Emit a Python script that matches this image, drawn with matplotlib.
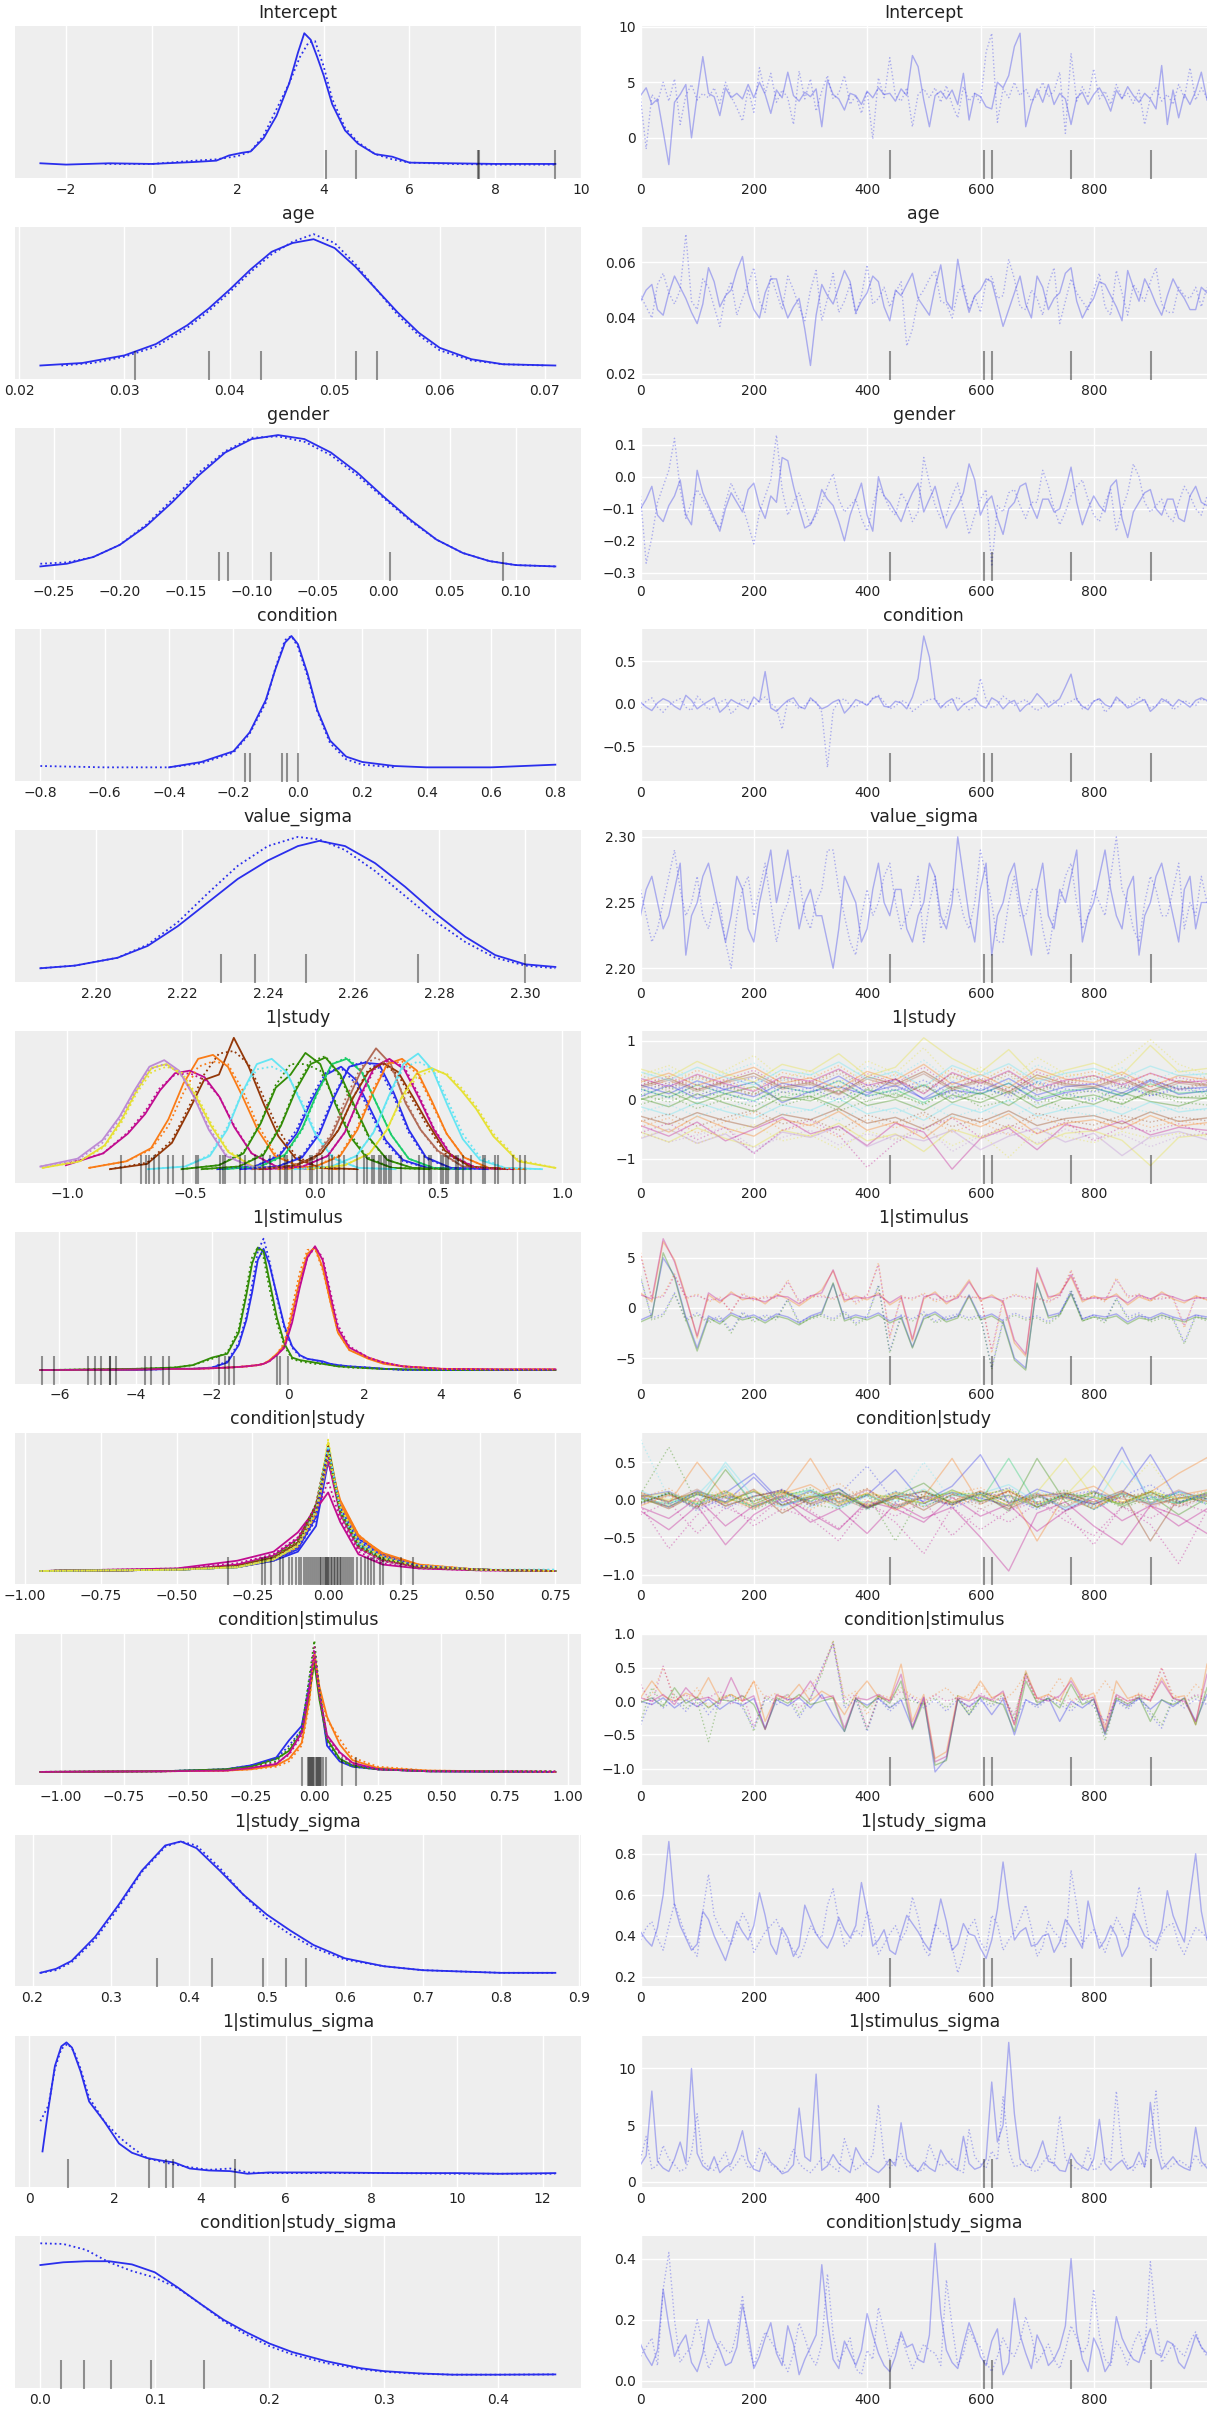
import numpy as np
import matplotlib
matplotlib.use("Agg")
import matplotlib.pyplot as plt

# arviz-darkgrid colour cycle
COLORS = ["#2a2eec", "#fa7c17", "#328c06", "#c10c90", "#933708",
          "#65e5f3", "#e6e135", "#1ccd6a", "#bd8ad5", "#b16b57"]
# draws flagged as divergent (same for every variable)
DIV_DRAWS = [440, 605, 620, 760, 900]

# ---------------- Intercept ----------------
intercept_kde_x0 = [-2.6, -2.0, -1.0, 0.0, 1.0, 1.5, 1.8, 2.1, 2.3, 2.6, 2.9, 3.2, 3.4, 3.55,
                    3.7, 3.85, 4.0, 4.2, 4.5, 4.8, 5.2, 5.6, 6.0, 7.0, 8.0, 9.4]
intercept_kde_c0 = [0.01, 0.0, 0.01, 0.005, 0.02, 0.03, 0.07, 0.09, 0.1, 0.2, 0.37, 0.62, 0.85, 1.0,
                    0.95, 0.82, 0.68, 0.46, 0.26, 0.16, 0.08, 0.06, 0.015, 0.01, 0.005, 0.005]
intercept_kde_x1 = [-1.1, 0.0, 1.0, 1.5, 2.0, 2.3, 2.6, 2.9, 3.2, 3.45, 3.65, 3.8, 4.0, 4.2, 4.5,
                    4.8, 5.2, 5.6, 6.0, 7.0, 8.0, 9.4]
intercept_kde_c1 = [0.005, 0.005, 0.03, 0.04, 0.065, 0.1, 0.22, 0.42, 0.62, 0.82, 0.93, 0.94, 0.75,
                    0.5, 0.28, 0.17, 0.08, 0.04, 0.015, 0.005, 0.0, 0.0]
intercept_div = [4.05, 4.75, 7.6, 7.62, 9.4]
intercept_trace_c0 = [3.8, 4.5, 3.0, 3.5, 0.6, -2.4, 3.2, 3.9, 4.8, 0.0,
                      3.8, 7.3, 4.0, 3.7, 2.0, 4.5, 3.6, 4.0, 3.5, 4.8,
                      3.6, 5.0, 3.9, 2.2, 4.3, 3.6, 5.9, 3.8, 3.3, 4.1,
                      3.7, 4.4, 1.0, 5.2, 3.9, 3.5, 2.5, 4.0, 3.8, 3.0,
                      4.2, 3.6, 4.5, 3.9, 4.0, 3.3, 4.4, 3.8, 7.4, 6.4,
                      3.4, 1.0, 3.8, 4.2, 3.5, 4.3, 3.0, 5.8, 1.6, 4.0,
                      3.7, 2.8, 2.6, 5.0, 4.5, 5.6, 8.2, 9.4, 1.0, 3.0,
                      4.4, 3.2, 4.8, 3.0, 4.0, 3.5, 1.2, 3.6, 4.1, 3.0,
                      3.9, 4.5, 3.6, 2.4, 4.3, 3.5, 4.6, 3.8, 3.2, 4.0,
                      3.5, 2.6, 6.5, 1.2, 4.3, 1.8, 3.9, 3.0, 4.2, 5.9, 3.4]
intercept_trace_c1 = [3.6, -1.0, 3.9, 3.2, 5.0, 3.3, 5.3, 1.2, 3.8, 4.8,
                      3.4, 4.0, 3.6, 4.5, 3.1, 5.0, 3.7, 2.7, 1.5, 4.4,
                      2.3, 6.3, 4.0, 5.8, 3.2, 4.3, 3.6, 1.2, 6.0, 3.5,
                      5.3, 2.4, 4.2, 5.6, 3.5, 4.0, 5.6, 3.0, 3.8, 2.2,
                      4.2, -0.1, 5.4, 3.6, 7.2, 3.8, 3.3, 4.5, 1.0, 3.9,
                      4.4, 3.6, 4.5, 3.2, 4.7, 3.0, 1.8, 4.6, 3.3, 4.0,
                      3.1, 7.7, 9.4, 1.4, 4.4, 3.6, 5.0, 3.8, 4.4, 3.3,
                      3.8, 5.0, 3.7, 4.2, 5.9, 0.4, 7.6, 3.3, 4.6, 3.6,
                      6.2, 3.5, 4.2, 3.0, 4.8, 3.6, 4.0, 3.1, 4.3, 1.2,
                      3.6, 4.5, 3.3, 3.9, 3.0, 4.8, 3.6, 6.3, 3.4, 4.5, 3.6]

# ---------------- age ----------------
age_kde_x0 = [0.022, 0.026, 0.030, 0.033, 0.036, 0.038, 0.040, 0.042, 0.044, 0.046, 0.048, 0.050,
              0.052, 0.054, 0.056, 0.058, 0.060, 0.063, 0.066, 0.071]
age_kde_c0 = [0.0, 0.02, 0.08, 0.17, 0.32, 0.45, 0.6, 0.76, 0.9, 0.97, 1.0, 0.93, 0.78, 0.6, 0.42,
              0.26, 0.14, 0.05, 0.01, 0.0]
age_kde_x1 = [0.024, 0.027, 0.030, 0.033, 0.036, 0.038, 0.040, 0.042, 0.044, 0.046, 0.048, 0.050,
              0.052, 0.054, 0.056, 0.058, 0.060, 0.063, 0.066, 0.070]
age_kde_c1 = [0.0, 0.02, 0.07, 0.15, 0.3, 0.43, 0.58, 0.74, 0.88, 0.98, 1.04, 0.97, 0.8, 0.6, 0.4,
              0.24, 0.12, 0.04, 0.01, 0.0]
age_div = [0.031, 0.038, 0.043, 0.052, 0.054]
age_trace_c0 = [0.046, 0.050, 0.052, 0.043, 0.041, 0.049, 0.055, 0.051, 0.047, 0.042,
                0.038, 0.045, 0.058, 0.053, 0.044, 0.048, 0.050, 0.057, 0.062, 0.049,
                0.043, 0.040, 0.049, 0.054, 0.054, 0.046, 0.040, 0.044, 0.047, 0.036,
                0.023, 0.041, 0.052, 0.048, 0.045, 0.051, 0.057, 0.053, 0.042, 0.046,
                0.049, 0.055, 0.053, 0.044, 0.039, 0.050, 0.048, 0.052, 0.056, 0.047,
                0.044, 0.041, 0.051, 0.059, 0.046, 0.043, 0.061, 0.050, 0.042, 0.048,
                0.050, 0.054, 0.053, 0.045, 0.037, 0.043, 0.049, 0.055, 0.045, 0.040,
                0.055, 0.051, 0.043, 0.047, 0.049, 0.056, 0.058, 0.046, 0.040, 0.044,
                0.047, 0.053, 0.052, 0.048, 0.044, 0.039, 0.057, 0.051, 0.046, 0.054,
                0.050, 0.045, 0.041, 0.048, 0.054, 0.050, 0.047, 0.043, 0.043, 0.051, 0.049]
age_trace_c1 = [0.048, 0.044, 0.040, 0.052, 0.056, 0.049, 0.045, 0.050, 0.070, 0.046,
                0.043, 0.054, 0.051, 0.044, 0.037, 0.048, 0.053, 0.041, 0.047, 0.052,
                0.058, 0.046, 0.042, 0.055, 0.049, 0.043, 0.055, 0.050, 0.044, 0.039,
                0.050, 0.057, 0.039, 0.047, 0.056, 0.042, 0.046, 0.052, 0.041, 0.048,
                0.059, 0.045, 0.047, 0.051, 0.044, 0.049, 0.053, 0.030, 0.036, 0.047,
                0.050, 0.054, 0.057, 0.046, 0.045, 0.040, 0.049, 0.052, 0.043, 0.048,
                0.042, 0.053, 0.055, 0.047, 0.048, 0.061, 0.054, 0.044, 0.043, 0.050,
                0.047, 0.041, 0.052, 0.058, 0.038, 0.046, 0.054, 0.049, 0.046, 0.043,
                0.050, 0.056, 0.044, 0.041, 0.057, 0.049, 0.041, 0.052, 0.049, 0.046,
                0.053, 0.058, 0.045, 0.042, 0.042, 0.051, 0.048, 0.047, 0.051, 0.044, 0.051]

# ---------------- gender ----------------
gender_kde_x = [-0.26, -0.24, -0.22, -0.20, -0.18, -0.16, -0.14, -0.12, -0.10, -0.08, -0.06, -0.04,
                -0.02, 0.0, 0.02, 0.04, 0.06, 0.08, 0.10, 0.13]
gender_kde_c0 = [0.02, 0.04, 0.09, 0.18, 0.32, 0.5, 0.7, 0.87, 0.97, 1.0, 0.97, 0.87, 0.72, 0.54,
                 0.37, 0.22, 0.12, 0.06, 0.03, 0.02]
gender_kde_c1 = [0.04, 0.05, 0.09, 0.18, 0.33, 0.52, 0.72, 0.88, 0.98, 0.99, 0.95, 0.85, 0.7, 0.53,
                 0.36, 0.22, 0.12, 0.06, 0.03, 0.02]
gender_div = [-0.125, -0.118, -0.085, 0.005, 0.09]
gender_trace_c0 = [-0.10, -0.07, -0.03, -0.12, -0.14, -0.09, -0.06, -0.01, -0.12, -0.15,
                   0.02, -0.05, -0.09, -0.13, -0.17, -0.10, -0.05, -0.08, -0.11, -0.04,
                   -0.02, -0.09, -0.13, -0.06, -0.08, 0.06, 0.05, -0.03, -0.10, -0.16,
                   -0.15, -0.11, -0.04, -0.07, -0.09, -0.14, -0.20, -0.12, -0.07, -0.02,
                   -0.12, -0.17, 0.00, -0.06, -0.08, -0.11, -0.14, -0.09, -0.05, -0.02,
                   -0.11, -0.07, -0.03, -0.10, -0.16, -0.12, -0.09, -0.05, 0.04, -0.01,
                   -0.12, -0.08, -0.06, -0.13, -0.18, -0.10, -0.08, -0.03, -0.02, -0.09,
                   -0.13, -0.07, -0.07, -0.11, -0.10, -0.04, 0.03, -0.08, -0.15, -0.10,
                   -0.06, -0.09, -0.11, -0.03, -0.01, -0.13, -0.19, -0.11, -0.08, -0.05,
                   -0.04, -0.10, -0.12, -0.07, -0.07, -0.13, -0.14, -0.06, -0.03, -0.08, -0.09]
gender_trace_c1 = [-0.06, -0.27, -0.19, -0.08, -0.03, 0.02, 0.12, -0.04, -0.13, -0.08,
                   -0.04, -0.07, -0.10, -0.14, -0.16, -0.08, -0.02, -0.06, -0.09, -0.15,
                   -0.21, -0.11, -0.06, -0.01, 0.13, -0.04, -0.12, -0.08, -0.05, -0.10,
                   -0.15, -0.12, -0.08, -0.03, 0.01, -0.07, -0.11, -0.09, -0.07, -0.13,
                   -0.17, -0.09, -0.03, -0.06, -0.10, -0.12, -0.05, -0.08, -0.14, -0.11,
                   0.06, -0.02, -0.09, -0.13, -0.12, -0.06, -0.02, -0.10, -0.18, -0.12,
                   -0.07, -0.04, -0.28, -0.09, -0.11, -0.05, -0.04, -0.09, -0.13, -0.08,
                   -0.08, 0.02, -0.03, -0.10, -0.15, -0.11, -0.06, -0.03, -0.01, -0.07,
                   -0.12, -0.14, -0.08, -0.04, -0.17, -0.10, -0.05, 0.04, 0.00, -0.08,
                   -0.11, -0.09, -0.07, -0.12, -0.14, -0.08, -0.03, -0.06, -0.10, -0.12, -0.06]

# ---------------- condition ----------------
condition_kde_x0 = [-0.4, -0.3, -0.2, -0.15, -0.1, -0.07, -0.04, -0.02, 0.0, 0.03, 0.06, 0.1, 0.15,
                    0.2, 0.3, 0.4, 0.5, 0.6, 0.7, 0.8]
condition_kde_c0 = [0.02, 0.06, 0.14, 0.28, 0.52, 0.75, 0.95, 1.0, 0.94, 0.72, 0.45, 0.22, 0.1, 0.06,
                    0.03, 0.02, 0.02, 0.02, 0.03, 0.04]
condition_kde_x1 = [-0.8, -0.6, -0.4, -0.3, -0.2, -0.15, -0.1, -0.07, -0.04, -0.02, 0.0, 0.03, 0.06,
                    0.1, 0.15, 0.2, 0.3]
condition_kde_c1 = [0.03, 0.02, 0.02, 0.05, 0.13, 0.27, 0.5, 0.76, 0.97, 1.0, 0.92, 0.7, 0.44, 0.2,
                    0.08, 0.04, 0.02]
condition_div = [-0.165, -0.15, -0.05, -0.035, 0.0]
condition_trace_c0 = [0.02, -0.04, -0.08, 0.01, 0.06, 0.03, -0.03, -0.07, 0.10, 0.04,
                      -0.06, -0.01, 0.03, 0.07, -0.10, -0.04, 0.05, 0.01, -0.02, -0.06,
                      0.08, 0.02, 0.38, -0.05, -0.09, -0.02, 0.04, 0.07, -0.03, -0.06,
                      0.07, 0.01, -0.06, -0.03, 0.02, 0.05, -0.11, -0.04, 0.05, 0.02,
                      -0.02, 0.06, 0.09, -0.03, -0.04, 0.03, 0.01, -0.06, 0.08, 0.30,
                      0.80, 0.55, 0.05, -0.05, 0.02, 0.06, -0.08, -0.01, 0.03, 0.07,
                      -0.02, -0.05, 0.07, 0.03, -0.06, 0.01, 0.04, -0.09, -0.02, 0.02,
                      0.12, 0.05, -0.04, 0.01, 0.06, 0.20, 0.35, 0.05, -0.03, -0.07,
                      0.03, 0.06, -0.01, -0.04, 0.08, 0.02, -0.05, -0.02, 0.02, 0.05,
                      -0.09, -0.03, 0.06, 0.02, -0.03, 0.05, 0.01, -0.04, 0.04, 0.07, 0.04]
condition_trace_c1 = [-0.05, 0.03, 0.07, -0.04, -0.10, -0.02, 0.03, 0.06, -0.04, -0.08,
                      0.09, 0.02, -0.07, -0.03, 0.02, 0.05, -0.12, -0.05, 0.06, 0.02,
                      -0.03, 0.04, 0.08, 0.00, -0.05, -0.30, 0.04, 0.01, -0.06, -0.02,
                      0.05, 0.02, -0.10, -0.75, -0.08, 0.03, 0.06, -0.02, -0.04, 0.03,
                      -0.02, 0.07, 0.10, 0.02, -0.06, -0.03, 0.04, 0.01, -0.09, -0.04,
                      0.02, 0.05, 0.06, -0.02, -0.04, 0.03, 0.08, 0.01, -0.07, -0.03,
                      0.30, 0.05, -0.05, -0.01, 0.09, 0.04, -0.02, 0.02, 0.05, -0.03,
                      -0.08, -0.04, 0.01, 0.04, -0.04, 0.00, 0.03, 0.07, -0.06, -0.02,
                      0.03, 0.06, -0.10, -0.04, 0.05, 0.02, -0.03, 0.01, 0.08, 0.03,
                      -0.05, -0.02, 0.02, 0.05, -0.07, -0.03, 0.04, 0.00, -0.02, 0.06, 0.03]

# ---------------- value_sigma ----------------
vsig_kde_x = [2.187, 2.195, 2.205, 2.212, 2.219, 2.226, 2.233, 2.240, 2.247, 2.252, 2.258, 2.265,
              2.272, 2.279, 2.286, 2.293, 2.300, 2.307]
vsig_kde_c0 = [0.0, 0.02, 0.08, 0.17, 0.32, 0.5, 0.68, 0.82, 0.93, 0.97, 0.93, 0.8, 0.62, 0.42, 0.24,
               0.1, 0.03, 0.01]
vsig_kde_c1 = [0.0, 0.02, 0.08, 0.18, 0.35, 0.57, 0.78, 0.93, 1.0, 0.98, 0.9, 0.74, 0.55, 0.36, 0.2,
               0.08, 0.02, 0.0]
vsig_div = [2.229, 2.237, 2.249, 2.275, 2.30]
vsig_trace_c0 = [2.24, 2.26, 2.27, 2.25, 2.23, 2.24, 2.26, 2.28, 2.21, 2.24,
                 2.25, 2.27, 2.28, 2.26, 2.24, 2.22, 2.24, 2.27, 2.26, 2.23,
                 2.22, 2.25, 2.27, 2.29, 2.25, 2.27, 2.29, 2.26, 2.23, 2.25,
                 2.26, 2.24, 2.24, 2.22, 2.20, 2.23, 2.27, 2.26, 2.25, 2.22,
                 2.23, 2.26, 2.28, 2.25, 2.24, 2.26, 2.26, 2.23, 2.22, 2.24,
                 2.25, 2.28, 2.27, 2.24, 2.23, 2.25, 2.30, 2.27, 2.24, 2.22,
                 2.26, 2.28, 2.21, 2.24, 2.25, 2.27, 2.28, 2.25, 2.23, 2.21,
                 2.26, 2.28, 2.24, 2.23, 2.26, 2.25, 2.27, 2.29, 2.22, 2.24,
                 2.25, 2.27, 2.29, 2.26, 2.24, 2.23, 2.26, 2.27, 2.21, 2.24,
                 2.25, 2.27, 2.28, 2.26, 2.24, 2.22, 2.26, 2.27, 2.23, 2.25, 2.25]
vsig_trace_c1 = [2.26, 2.24, 2.22, 2.23, 2.25, 2.27, 2.29, 2.26, 2.24, 2.25,
                 2.27, 2.24, 2.23, 2.25, 2.25, 2.22, 2.20, 2.24, 2.26, 2.27,
                 2.24, 2.26, 2.28, 2.25, 2.22, 2.24, 2.25, 2.27, 2.27, 2.24,
                 2.23, 2.25, 2.26, 2.29, 2.29, 2.26, 2.24, 2.22, 2.21, 2.24,
                 2.26, 2.24, 2.25, 2.27, 2.28, 2.25, 2.23, 2.24, 2.25, 2.27,
                 2.22, 2.25, 2.27, 2.23, 2.24, 2.26, 2.26, 2.24, 2.23, 2.25,
                 2.29, 2.27, 2.25, 2.22, 2.22, 2.25, 2.27, 2.24, 2.24, 2.26,
                 2.26, 2.23, 2.21, 2.24, 2.25, 2.27, 2.28, 2.25, 2.23, 2.24,
                 2.26, 2.25, 2.24, 2.27, 2.30, 2.26, 2.25, 2.23, 2.22, 2.25,
                 2.27, 2.26, 2.24, 2.24, 2.26, 2.28, 2.23, 2.25, 2.24, 2.27, 2.25]

# ---------------- 1|study (17 levels) ----------------
study_kde_offsets = [-0.5, -0.35, -0.25, -0.18, -0.12, -0.06, 0.0, 0.06, 0.12, 0.18, 0.25, 0.35, 0.5]
study_centers = [0.107, -0.41, -0.037, -0.504, -0.326, -0.173, -0.598, 0.13, -0.607, 0.248, 0.2,
                 0.353, 0.044, 0.302, 0.277, 0.418, 0.472]
study_kde_c0 = [
    [0.0, 0.02, 0.1, 0.27, 0.52, 0.72, 0.78, 0.68, 0.45, 0.22, 0.07, 0.01, 0.0],
    [0.01, 0.06, 0.16, 0.38, 0.65, 0.84, 0.87, 0.78, 0.55, 0.3, 0.1, 0.02, 0.0],
    [0.0, 0.03, 0.12, 0.35, 0.62, 0.72, 0.885, 0.8, 0.5, 0.25, 0.08, 0.01, 0.0],
    [0.03, 0.12, 0.27, 0.42, 0.6, 0.73, 0.75, 0.7, 0.55, 0.32, 0.12, 0.02, 0.0],
    [0.0, 0.04, 0.2, 0.45, 0.68, 0.72, 1.0, 0.78, 0.5, 0.25, 0.08, 0.01, 0.0],
    [0.0, 0.02, 0.1, 0.3, 0.58, 0.8, 0.84, 0.74, 0.5, 0.25, 0.08, 0.01, 0.0],
    [0.01, 0.06, 0.18, 0.38, 0.6, 0.77, 0.8, 0.72, 0.55, 0.33, 0.13, 0.02, 0.0],
    [0.0, 0.02, 0.11, 0.31, 0.58, 0.8, 0.84, 0.74, 0.5, 0.26, 0.08, 0.01, 0.0],
    [0.02, 0.08, 0.22, 0.4, 0.6, 0.78, 0.83, 0.75, 0.55, 0.3, 0.1, 0.02, 0.0],
    [0.0, 0.02, 0.08, 0.25, 0.5, 0.75, 0.92, 0.8, 0.5, 0.3, 0.14, 0.02, 0.0],
    [0.0, 0.02, 0.09, 0.27, 0.55, 0.78, 0.81, 0.8, 0.58, 0.3, 0.09, 0.01, 0.0],
    [0.0, 0.02, 0.1, 0.3, 0.57, 0.8, 0.84, 0.75, 0.52, 0.27, 0.09, 0.01, 0.0],
    [0.0, 0.02, 0.11, 0.33, 0.6, 0.8, 0.85, 0.72, 0.47, 0.23, 0.07, 0.01, 0.0],
    [0.0, 0.02, 0.1, 0.28, 0.55, 0.78, 0.84, 0.76, 0.54, 0.3, 0.1, 0.01, 0.0],
    [0.0, 0.03, 0.12, 0.3, 0.55, 0.74, 0.81, 0.74, 0.55, 0.35, 0.14, 0.02, 0.0],
    [0.0, 0.02, 0.1, 0.28, 0.55, 0.8, 0.88, 0.75, 0.48, 0.23, 0.07, 0.01, 0.0],
    [0.0, 0.03, 0.12, 0.3, 0.55, 0.73, 0.77, 0.72, 0.6, 0.46, 0.25, 0.06, 0.01],
]
study_kde_c1 = [
    [0.0, 0.02, 0.11, 0.3, 0.55, 0.74, 0.77, 0.65, 0.42, 0.2, 0.06, 0.01, 0.0],
    [0.01, 0.06, 0.15, 0.33, 0.58, 0.78, 0.82, 0.8, 0.6, 0.34, 0.12, 0.02, 0.0],
    [0.0, 0.03, 0.13, 0.36, 0.64, 0.8, 0.8, 0.75, 0.52, 0.27, 0.09, 0.01, 0.0],
    [0.04, 0.12, 0.28, 0.44, 0.62, 0.72, 0.73, 0.68, 0.55, 0.33, 0.12, 0.02, 0.0],
    [0.0, 0.05, 0.22, 0.48, 0.72, 0.88, 0.9, 0.8, 0.55, 0.3, 0.1, 0.01, 0.0],
    [0.0, 0.02, 0.11, 0.32, 0.58, 0.76, 0.78, 0.73, 0.52, 0.27, 0.09, 0.01, 0.0],
    [0.01, 0.06, 0.17, 0.36, 0.58, 0.74, 0.78, 0.74, 0.57, 0.35, 0.14, 0.02, 0.0],
    [0.0, 0.02, 0.1, 0.3, 0.57, 0.8, 0.85, 0.75, 0.5, 0.26, 0.08, 0.01, 0.0],
    [0.02, 0.07, 0.2, 0.38, 0.58, 0.76, 0.8, 0.74, 0.56, 0.32, 0.11, 0.02, 0.0],
    [0.0, 0.02, 0.09, 0.27, 0.55, 0.78, 0.85, 0.78, 0.52, 0.3, 0.13, 0.02, 0.0],
    [0.0, 0.02, 0.1, 0.3, 0.57, 0.78, 0.82, 0.77, 0.55, 0.28, 0.08, 0.01, 0.0],
    [0.0, 0.02, 0.11, 0.32, 0.6, 0.8, 0.82, 0.73, 0.5, 0.27, 0.09, 0.01, 0.0],
    [0.0, 0.02, 0.12, 0.34, 0.62, 0.82, 0.86, 0.7, 0.45, 0.22, 0.07, 0.01, 0.0],
    [0.0, 0.02, 0.1, 0.28, 0.54, 0.76, 0.83, 0.78, 0.56, 0.31, 0.11, 0.01, 0.0],
    [0.0, 0.03, 0.12, 0.3, 0.55, 0.76, 0.8, 0.72, 0.52, 0.32, 0.12, 0.02, 0.0],
    [0.0, 0.02, 0.1, 0.28, 0.54, 0.77, 0.82, 0.76, 0.52, 0.27, 0.09, 0.01, 0.0],
    [0.0, 0.03, 0.12, 0.3, 0.53, 0.7, 0.75, 0.73, 0.62, 0.48, 0.27, 0.07, 0.01],
]
study_div = [-0.78, -0.70, -0.68, -0.67, -0.65, -0.63, -0.59, -0.57, -0.53, -0.48, -0.47, -0.38,
             -0.37, -0.36, -0.30, -0.28, -0.24, -0.21, -0.18, -0.14, -0.12, -0.11, -0.09, -0.06,
             -0.02, -0.01, 0.01, 0.03, 0.06, 0.07, 0.10, 0.12, 0.17, 0.20, 0.21, 0.23, 0.24, 0.26,
             0.27, 0.28, 0.29, 0.30, 0.31, 0.35, 0.42, 0.44, 0.46, 0.47, 0.51, 0.52, 0.53, 0.54,
             0.57, 0.58, 0.60, 0.63, 0.68, 0.69, 0.73, 0.74, 0.80, 0.83, 0.85]
study_trace_c0 = [
    [0.05, 0.25, 0.02, 0.18, 0.30, -0.05, 0.14, 0.22, 0.08, 0.35, 0.00, 0.16, 0.10, 0.28, -0.02, 0.12, 0.20, 0.06, 0.32, 0.09, 0.15],
    [-0.35, -0.55, -0.28, -0.48, -0.62, -0.33, -0.44, -0.20, -0.52, -0.38, -0.66, -0.30, -0.46, -0.24, -0.58, -0.40, -0.34, -0.50, -0.27, -0.45, -0.39],
    [0.02, -0.12, 0.10, -0.06, -0.20, 0.05, -0.02, 0.16, -0.10, 0.00, -0.18, 0.08, -0.05, 0.14, -0.14, 0.03, -0.08, 0.12, -0.03, -0.11, 0.04],
    [-0.44, -0.62, -0.38, -0.70, -0.50, -0.30, -0.58, -0.45, -0.78, -0.40, -0.55, -1.18, -0.66, -0.48, -0.85, -0.42, -0.53, -0.36, -0.60, -0.47, -0.52],
    [-0.28, -0.42, -0.22, -0.36, -0.47, -0.25, -0.34, -0.15, -0.40, -0.30, -0.50, -0.24, -0.38, -0.19, -0.44, -0.32, -0.27, -0.41, -0.21, -0.37, -0.31],
    [-0.12, -0.26, -0.05, -0.20, -0.32, -0.09, -0.18, 0.02, -0.24, -0.14, -0.35, -0.07, -0.22, -0.01, -0.28, -0.16, -0.10, -0.25, -0.04, -0.21, -0.15],
    [-0.55, -0.72, -0.48, -0.66, -0.80, -0.52, -0.62, -0.40, -0.70, -0.58, -0.88, -0.50, -0.65, -0.44, -0.76, -0.57, -0.53, -0.69, -1.12, -0.64, -0.59],
    [0.18, 0.04, 0.25, 0.10, -0.02, 0.21, 0.12, 0.32, 0.06, 0.17, -0.05, 0.23, 0.09, 0.28, 0.01, 0.15, 0.20, 0.07, 0.27, 0.11, 0.14],
    [-0.66, -0.50, -0.74, -0.58, -0.90, -0.55, -0.64, -0.45, -0.80, -0.60, -0.70, -0.52, -0.85, -0.62, -0.48, -0.72, -0.57, -0.95, -0.63, -0.54, -0.68],
    [0.20, 0.33, 0.14, 0.29, 0.40, 0.18, 0.26, 0.08, 0.35, 0.22, 0.44, 0.16, 0.31, 0.10, 0.37, 0.24, 0.19, 0.34, 0.12, 0.28, 0.23],
    [0.25, 0.10, 0.32, 0.17, 0.05, 0.28, 0.19, 0.40, 0.12, 0.24, 0.02, 0.30, 0.15, 0.36, 0.08, 0.22, 0.27, 0.11, 0.34, 0.18, 0.21],
    [0.30, 0.45, 0.24, 0.40, 0.55, 0.28, 0.37, 0.18, 0.48, 0.33, 0.60, 0.26, 0.43, 0.20, 0.52, 0.35, 0.29, 0.47, 0.22, 0.41, 0.34],
    [0.00, 0.14, -0.07, 0.10, 0.22, -0.02, 0.06, -0.13, 0.17, 0.03, 0.25, -0.05, 0.12, -0.10, 0.20, 0.01, 0.08, -0.08, 0.15, 0.04, 0.02],
    [0.36, 0.22, 0.43, 0.27, 0.14, 0.39, 0.31, 0.52, 0.24, 0.35, 0.10, 0.46, 0.28, 0.49, 0.19, 0.33, 0.41, 0.25, 0.45, 0.29, 0.32],
    [0.23, 0.36, 0.17, 0.31, 0.45, 0.21, 0.29, 0.10, 0.39, 0.26, 0.48, 0.19, 0.34, 0.13, 0.42, 0.27, 0.22, 0.37, 0.15, 0.32, 0.25],
    [0.47, 0.33, 0.55, 0.38, 0.25, 0.51, 0.42, 0.64, 0.35, 0.48, 0.22, 0.58, 0.40, 0.61, 0.30, 0.45, 0.53, 0.36, 0.57, 0.41, 0.44],
    [0.52, 0.38, 0.65, 0.44, 0.30, 0.60, 0.48, 0.78, 0.40, 0.55, 1.05, 0.70, 0.46, 0.85, 0.35, 0.50, 0.62, 0.42, 0.92, 0.47, 0.53],
]
study_trace_c1 = [
    [0.18, 0.03, 0.27, 0.10, -0.04, 0.21, 0.12, 0.33, 0.05, 0.16, 0.24, 0.01, 0.19, 0.08, 0.29, 0.11, -0.03, 0.23, 0.07, 0.17, 0.13],
    [-0.46, -0.31, -0.57, -0.37, -0.22, -0.52, -0.42, -0.64, -0.33, -0.48, -0.26, -0.55, -0.38, -0.60, -0.29, -0.44, -0.51, -0.32, -0.47, -0.36, -0.43],
    [-0.08, 0.06, -0.15, 0.01, 0.13, -0.10, 0.04, -0.19, -0.02, 0.09, -0.07, 0.15, -0.12, -0.01, 0.07, -0.16, 0.02, -0.06, 0.11, -0.04, -0.09],
    [-0.56, -0.40, -0.68, -0.47, -0.92, -0.52, -0.35, -0.60, -1.15, -0.73, -0.49, -0.31, -0.64, -0.43, -0.57, -0.38, -0.70, -0.46, -0.54, -0.41, -0.59],
    [-0.37, -0.24, -0.45, -0.30, -0.18, -0.41, -0.33, -0.52, -0.26, -0.39, -0.21, -0.46, -0.31, -0.48, -0.23, -0.35, -0.43, -0.27, -0.38, -0.29, -0.36],
    [-0.21, -0.08, -0.29, -0.13, -0.02, -0.25, -0.17, -0.36, -0.10, -0.23, -0.05, -0.30, -0.15, -0.33, -0.07, -0.19, -0.27, -0.11, -0.22, -0.14, -0.18],
    [-0.64, -0.50, -0.75, -0.56, -0.42, -0.70, -0.60, -0.84, -0.53, -0.67, -0.47, -0.78, -0.58, -0.98, -0.51, -0.63, -0.73, -0.54, -0.66, -0.57, -0.62],
    [0.08, 0.22, 0.00, 0.16, 0.30, 0.05, 0.14, -0.04, 0.19, 0.10, 0.26, 0.03, 0.17, 0.11, 0.29, 0.07, 0.02, 0.21, 0.12, 0.24, 0.09],
    [-0.55, -0.72, -0.60, -0.47, -0.82, -0.64, -0.52, -0.77, -0.58, -0.69, -0.43, -0.88, -0.61, -0.56, -0.74, -0.50, -0.66, -0.59, -0.80, -0.62, -0.57],
    [0.29, 0.15, 0.38, 0.21, 0.07, 0.34, 0.25, 0.45, 0.17, 0.31, 0.11, 0.39, 0.23, 0.42, 0.13, 0.27, 0.36, 0.19, 0.30, 0.16, 0.26],
    [0.14, 0.29, 0.07, 0.23, 0.38, 0.12, 0.20, 0.00, 0.26, 0.16, 0.33, 0.09, 0.24, 0.04, 0.31, 0.18, 0.13, 0.28, 0.06, 0.22, 0.17],
    [0.41, 0.26, 0.50, 0.32, 0.16, 0.46, 0.36, 0.58, 0.27, 0.43, 0.21, 0.53, 0.31, 0.56, 0.24, 0.39, 0.48, 0.28, 0.44, 0.30, 0.38],
    [0.09, -0.04, 0.18, 0.02, -0.12, 0.13, 0.05, 0.24, -0.03, 0.11, -0.09, 0.19, 0.00, 0.21, -0.06, 0.08, 0.16, -0.01, 0.10, 0.03, 0.07],
    [0.25, 0.40, 0.18, 0.34, 0.50, 0.23, 0.32, 0.12, 0.44, 0.28, 0.55, 0.20, 0.37, 0.15, 0.47, 0.30, 0.26, 0.42, 0.21, 0.38, 0.27],
    [0.33, 0.19, 0.41, 0.24, 0.09, 0.37, 0.28, 0.50, 0.20, 0.35, 0.14, 0.44, 0.26, 0.47, 0.16, 0.30, 0.40, 0.22, 0.34, 0.18, 0.29],
    [0.36, 0.52, 0.28, 0.45, 0.62, 0.33, 0.43, 0.20, 0.56, 0.39, 0.67, 0.31, 0.49, 0.26, 0.59, 0.40, 0.34, 0.54, 0.30, 0.50, 0.38],
    [0.42, 0.58, 0.33, 0.50, 0.75, 0.37, 0.49, 0.27, 0.66, 0.45, 0.88, 0.36, 0.55, 0.30, 0.72, 0.44, 0.39, 0.64, 1.02, 0.60, 0.43],
]

# ---------------- 1|stimulus (4 levels) ----------------
stim_kde_x = [-6.5, -4.0, -3.0, -2.5, -2.0, -1.6, -1.3, -1.1, -0.95, -0.8, -0.65, -0.5, -0.3, -0.1,
              0.1, 0.3, 0.5, 0.7, 0.9, 1.1, 1.3, 1.6, 2.1, 2.5, 3.0, 4.0, 5.5, 7.0]
stim_kde_c0 = [
    [0.0, 0.0, 0.01, 0.01, 0.02, 0.06, 0.2, 0.4, 0.62, 0.88, 0.97, 0.85, 0.6, 0.35, 0.19, 0.12, 0.09, 0.08, 0.07, 0.05, 0.04, 0.03, 0.02, 0.01, 0.005, 0.0, 0.0, 0.0],
    [0.0, 0.005, 0.01, 0.01, 0.015, 0.02, 0.025, 0.03, 0.035, 0.04, 0.05, 0.077, 0.13, 0.2, 0.45, 0.72, 0.93, 0.98, 0.82, 0.55, 0.3, 0.16, 0.09, 0.05, 0.03, 0.01, 0.005, 0.005],
    [0.0, 0.01, 0.02, 0.04, 0.1, 0.13, 0.3, 0.6, 0.85, 0.98, 0.95, 0.72, 0.42, 0.21, 0.1, 0.08, 0.07, 0.06, 0.05, 0.04, 0.03, 0.025, 0.015, 0.01, 0.005, 0.0, 0.0, 0.0],
    [0.0, 0.005, 0.01, 0.01, 0.015, 0.02, 0.025, 0.03, 0.035, 0.04, 0.05, 0.07, 0.12, 0.18, 0.38, 0.66, 0.9, 0.99, 0.88, 0.6, 0.33, 0.18, 0.1, 0.06, 0.03, 0.01, 0.005, 0.005],
]
stim_kde_c1 = [
    [0.0, 0.0, 0.01, 0.01, 0.02, 0.07, 0.22, 0.43, 0.68, 0.95, 1.05, 0.88, 0.58, 0.33, 0.18, 0.11, 0.09, 0.08, 0.06, 0.05, 0.04, 0.03, 0.02, 0.01, 0.0, 0.0, 0.0, 0.0],
    [0.0, 0.005, 0.01, 0.01, 0.015, 0.02, 0.025, 0.03, 0.035, 0.04, 0.05, 0.075, 0.13, 0.22, 0.5, 0.78, 0.96, 0.97, 0.8, 0.55, 0.3, 0.16, 0.1, 0.06, 0.03, 0.01, 0.005, 0.005],
    [0.0, 0.01, 0.02, 0.04, 0.09, 0.14, 0.33, 0.65, 0.9, 0.98, 0.9, 0.66, 0.38, 0.19, 0.09, 0.07, 0.06, 0.05, 0.05, 0.04, 0.03, 0.02, 0.015, 0.01, 0.005, 0.0, 0.0, 0.0],
    [0.0, 0.005, 0.01, 0.01, 0.015, 0.02, 0.025, 0.03, 0.035, 0.04, 0.05, 0.07, 0.12, 0.19, 0.4, 0.68, 0.9, 0.98, 0.9, 0.63, 0.36, 0.19, 0.1, 0.06, 0.03, 0.01, 0.005, 0.005],
]
stim_div = [-6.47, -6.13, -5.24, -5.07, -4.91, -4.68, -4.68, -4.51, -3.76, -3.59, -3.28, -3.12,
            -1.82, -1.66, -1.56, -1.43, -0.29, -0.21, -0.02]
stim_trace_c0 = [
    [-1.2, -0.7, 5.0, 3.2, -0.9, -4.0, -0.8, -1.4, -0.5, -1.0, -0.7, -1.3, -0.6, -0.9, -1.5, -0.8, -0.4, 2.4, -1.1, -0.7, -1.0, -0.5, -1.3, -0.8, -3.9, -0.9, -0.4, -1.2, -0.8, 1.3, -1.0, -0.6, -1.3, -5.0, -6.0, 2.4, -0.8, -0.5, 1.5, -1.1, -0.7, -0.9, -0.6, -1.4, -0.8, -1.0, -0.5, -0.9, -1.2, -0.7, -0.9],
    [1.5, 0.6, 6.6, 4.8, 1.2, -3.0, 1.3, 0.5, 1.6, 0.8, 1.1, 0.4, 1.4, 0.9, 0.2, 1.0, 1.8, 3.7, 0.6, 1.2, 0.8, 1.5, 0.3, 1.0, -3.3, 0.9, 1.6, 0.4, 1.2, 2.8, 0.7, 1.3, 0.5, -3.5, -4.8, 3.8, 0.9, 1.5, 3.1, 0.6, 1.2, 0.8, 1.4, 0.3, 1.1, 0.7, 1.6, 0.9, 0.5, 1.2, 0.8],
    [-1.4, -0.9, 5.5, 3.0, -1.1, -4.3, -1.0, -1.6, -0.7, -1.2, -0.9, -1.5, -0.8, -1.1, -1.7, -1.0, -0.6, 2.5, -1.3, -0.9, -1.2, -0.7, -1.5, -1.0, -4.0, -1.1, -0.6, -1.4, -1.0, 1.2, -1.2, -0.8, -1.5, -5.2, -6.2, 2.5, -1.0, -0.7, 1.4, -1.3, -0.9, -1.1, -0.8, -1.6, -1.0, -1.2, -0.7, -1.1, -1.4, -0.9, -1.1],
    [1.3, 0.9, 6.9, 4.6, 1.0, -2.8, 1.5, 0.7, 1.4, 1.0, 0.9, 0.6, 1.2, 1.1, 0.4, 1.2, 1.5, 3.8, 0.8, 1.0, 1.0, 1.3, 0.5, 1.2, -3.1, 1.1, 1.4, 0.6, 1.0, 2.6, 0.9, 1.1, 0.7, -3.2, -4.6, 4.0, 1.1, 1.3, 3.3, 0.8, 1.0, 1.0, 1.2, 0.5, 1.3, 0.9, 1.4, 1.1, 0.7, 1.0, 1.0],
]
stim_trace_c1 = [
    [3.0, -1.0, -0.6, 1.5, -1.1, -0.5, -1.3, -0.8, -2.3, -0.4, -1.2, -0.7, -1.0, 0.9, -1.4, -0.9, -0.6, -1.1, -0.3, -1.5, -0.8, 2.3, -4.3, -0.7, -1.1, -0.4, -1.3, -0.9, -0.6, -1.0, -0.7, -6.0, -1.2, -0.5, -1.0, -0.8, -1.4, -0.6, 1.8, -1.1, -0.7, -1.3, 1.0, -0.9, -0.5, -1.2, -0.8, -1.0, -3.4, -0.7, -1.1],
    [5.5, 0.8, 1.3, 3.4, 0.9, 1.4, 0.6, 1.1, -0.5, 1.5, 0.7, 1.2, 0.9, 2.8, 0.5, 1.0, 1.3, 0.8, 1.6, 0.4, 1.1, 4.5, -3.0, 1.2, 0.8, 1.5, 0.6, 1.0, 1.3, 0.9, 1.2, -4.5, 0.7, 1.4, 0.9, 1.1, 0.5, 1.3, 3.8, 0.8, 1.2, 0.6, 3.0, 1.0, 1.4, 0.7, 1.1, 0.9, -2.0, 1.2, 0.8],
    [3.2, -1.2, -0.8, 1.4, -1.3, -0.7, -1.5, -1.0, -2.5, -0.6, -1.4, -0.9, -1.2, 0.8, -1.6, -1.1, -0.8, -1.3, -0.5, -1.7, -1.0, 2.2, -4.5, -0.9, -1.3, -0.6, -1.5, -1.1, -0.8, -1.2, -0.9, -6.1, -1.4, -0.7, -1.2, -1.0, -1.6, -0.8, 1.7, -1.3, -0.9, -1.5, 0.9, -1.1, -0.7, -1.4, -1.0, -1.2, -3.6, -0.9, -1.3],
    [5.2, 1.0, 1.1, 3.2, 1.1, 1.2, 0.8, 0.9, -0.3, 1.3, 0.9, 1.0, 1.1, 2.6, 0.7, 1.2, 1.1, 1.0, 1.4, 0.6, 1.3, 4.3, -2.8, 1.0, 1.0, 1.3, 0.8, 1.2, 1.1, 1.1, 1.0, -4.2, 0.9, 1.2, 1.1, 0.9, 0.7, 1.1, 3.6, 1.0, 1.0, 0.8, 2.8, 1.2, 1.2, 0.9, 0.9, 1.1, -1.8, 1.0, 1.0],
]

# ---------------- condition|study (17 levels) ----------------
cstudy_kde_x = [-0.95, -0.5, -0.3, -0.18, -0.1, -0.04, 0.0, 0.04, 0.1, 0.18, 0.3, 0.5, 0.75]
cstudy_kde_c0 = [
    [0.0, 0.01, 0.03, 0.08, 0.15, 0.35, 0.85, 0.5, 0.25, 0.13, 0.04, 0.01, 0.0],
    [0.0, 0.01, 0.03, 0.09, 0.2, 0.45, 0.88, 0.55, 0.28, 0.12, 0.04, 0.01, 0.0],
    [0.0, 0.01, 0.04, 0.11, 0.22, 0.5, 0.9, 0.48, 0.22, 0.1, 0.03, 0.01, 0.0],
    [0.0, 0.02, 0.08, 0.15, 0.3, 0.48, 0.61, 0.38, 0.13, 0.05, 0.02, 0.005, 0.0],
    [0.0, 0.01, 0.04, 0.1, 0.22, 0.5, 0.92, 0.47, 0.2, 0.09, 0.03, 0.01, 0.0],
    [0.0, 0.01, 0.03, 0.09, 0.19, 0.44, 0.88, 0.5, 0.23, 0.11, 0.04, 0.01, 0.0],
    [0.0, 0.01, 0.03, 0.08, 0.18, 0.45, 1.0, 0.47, 0.2, 0.09, 0.03, 0.01, 0.0],
    [0.0, 0.01, 0.03, 0.09, 0.2, 0.47, 0.93, 0.46, 0.2, 0.09, 0.03, 0.01, 0.0],
    [0.0, 0.01, 0.04, 0.1, 0.22, 0.48, 0.9, 0.45, 0.19, 0.08, 0.03, 0.01, 0.0],
    [0.0, 0.01, 0.04, 0.1, 0.21, 0.47, 0.91, 0.46, 0.2, 0.09, 0.03, 0.01, 0.0],
    [0.0, 0.01, 0.03, 0.08, 0.17, 0.42, 0.94, 0.5, 0.22, 0.1, 0.04, 0.01, 0.0],
    [0.0, 0.01, 0.03, 0.09, 0.19, 0.44, 0.87, 0.52, 0.27, 0.14, 0.05, 0.01, 0.0],
    [0.0, 0.01, 0.04, 0.11, 0.22, 0.49, 0.89, 0.47, 0.21, 0.1, 0.03, 0.01, 0.0],
    [0.0, 0.01, 0.05, 0.12, 0.25, 0.5, 0.86, 0.44, 0.18, 0.08, 0.03, 0.01, 0.0],
    [0.0, 0.01, 0.04, 0.1, 0.22, 0.48, 0.92, 0.46, 0.2, 0.09, 0.03, 0.01, 0.0],
    [0.0, 0.01, 0.03, 0.09, 0.2, 0.46, 0.95, 0.48, 0.21, 0.1, 0.04, 0.01, 0.0],
    [0.0, 0.01, 0.03, 0.09, 0.2, 0.46, 0.89, 0.49, 0.22, 0.1, 0.04, 0.01, 0.0],
]
cstudy_kde_c1 = [
    [0.0, 0.01, 0.03, 0.09, 0.17, 0.4, 0.9, 0.48, 0.23, 0.12, 0.04, 0.01, 0.0],
    [0.0, 0.01, 0.04, 0.1, 0.21, 0.47, 0.95, 0.52, 0.26, 0.11, 0.04, 0.01, 0.0],
    [0.0, 0.01, 0.04, 0.12, 0.24, 0.52, 0.96, 0.46, 0.2, 0.09, 0.03, 0.01, 0.0],
    [0.0, 0.02, 0.06, 0.13, 0.26, 0.45, 0.7, 0.4, 0.15, 0.06, 0.02, 0.005, 0.0],
    [0.0, 0.01, 0.04, 0.1, 0.23, 0.52, 0.97, 0.46, 0.19, 0.08, 0.03, 0.01, 0.0],
    [0.0, 0.01, 0.03, 0.09, 0.2, 0.45, 0.9, 0.5, 0.22, 0.1, 0.04, 0.01, 0.01],
    [0.0, 0.01, 0.03, 0.08, 0.18, 0.46, 1.02, 0.45, 0.19, 0.08, 0.03, 0.01, 0.0],
    [0.0, 0.01, 0.03, 0.09, 0.21, 0.48, 0.95, 0.45, 0.19, 0.09, 0.03, 0.01, 0.0],
    [0.0, 0.01, 0.04, 0.1, 0.21, 0.47, 0.92, 0.46, 0.2, 0.08, 0.03, 0.01, 0.0],
    [0.0, 0.01, 0.04, 0.11, 0.22, 0.48, 0.94, 0.45, 0.19, 0.09, 0.03, 0.01, 0.0],
    [0.0, 0.01, 0.03, 0.08, 0.18, 0.44, 0.96, 0.49, 0.21, 0.1, 0.04, 0.01, 0.0],
    [0.0, 0.01, 0.03, 0.09, 0.2, 0.45, 0.9, 0.53, 0.28, 0.13, 0.05, 0.01, 0.0],
    [0.0, 0.01, 0.04, 0.1, 0.21, 0.48, 0.93, 0.46, 0.2, 0.1, 0.03, 0.01, 0.0],
    [0.0, 0.01, 0.05, 0.13, 0.26, 0.51, 0.88, 0.43, 0.17, 0.08, 0.03, 0.01, 0.0],
    [0.0, 0.01, 0.04, 0.1, 0.21, 0.47, 0.94, 0.47, 0.2, 0.09, 0.03, 0.01, 0.0],
    [0.0, 0.01, 0.03, 0.09, 0.2, 0.47, 0.97, 0.47, 0.2, 0.1, 0.04, 0.01, 0.01],
    [0.0, 0.01, 0.03, 0.09, 0.2, 0.45, 0.92, 0.5, 0.23, 0.1, 0.04, 0.01, 0.0],
]
cstudy_div = [-0.33, -0.22, -0.21, -0.19, -0.16, -0.15, -0.13, -0.12, -0.105, -0.095, -0.09,
              -0.08, -0.072, -0.065, -0.06, -0.052, -0.047, -0.04, -0.035, -0.028, -0.022, -0.018,
              -0.012, -0.007, -0.003, 0.0, 0.004, 0.009, 0.013, 0.018, 0.024, 0.029, 0.033, 0.038,
              0.044, 0.05, 0.056, 0.061, 0.068, 0.075, 0.083, 0.095, 0.11, 0.12, 0.13, 0.14, 0.15,
              0.17, 0.18, 0.24, 0.28]
cstudy_trace_c0 = [
    [0.05, -0.10, 0.12, -0.03, 0.30, -0.08, 0.02, 0.15, -0.12, 0.06, -0.02, 0.18, 0.60, -0.05, 0.09, -0.14, 0.04, 0.70, -0.06, 0.11, 0.01],
    [0.10, -0.05, 0.50, 0.03, -0.12, 0.08, 0.20, -0.03, 0.14, -0.08, 0.04, 0.55, -0.06, 0.12, -0.55, 0.07, 0.18, -0.04, 0.10, 0.35, 0.56],
    [-0.04, 0.08, -0.12, 0.40, -0.06, 0.10, -0.02, 0.14, -0.10, 0.05, 0.22, -0.07, 0.09, -0.15, 0.55, -0.03, 0.11, -0.09, 0.06, -0.20, 0.02],
    [-0.15, -0.40, -0.08, -0.60, -0.20, 0.02, -0.30, -0.12, -0.45, -0.05, -0.25, -0.10, -0.50, -0.95, -0.18, -0.03, -0.35, -0.60, -0.08, -0.22, -0.45],
    [0.03, -0.12, 0.08, -0.05, 0.14, -0.18, 0.02, 0.10, -0.08, 0.05, -0.14, 0.07, -0.03, 0.12, -0.10, 0.04, -0.06, 0.09, -0.55, 0.03, -0.02],
    [0.12, -0.04, 0.06, 0.45, -0.08, 0.03, 0.10, -0.12, 0.05, -0.02, 0.14, -0.06, 0.08, 0.20, -0.03, 0.07, -0.10, 0.52, 0.04, -0.05, 0.09],
    [0.06, 0.00, 0.09, -0.05, 0.12, -0.02, 0.04, 0.08, -0.07, 0.10, 0.02, -0.04, 0.07, 0.13, -0.06, 0.05, 0.45, -0.03, 0.11, 0.01, 0.06],
    [0.02, -0.06, 0.10, 0.03, -0.09, 0.05, 0.13, -0.04, 0.07, -0.11, 0.04, 0.09, -0.02, 0.55, -0.07, 0.06, -0.13, 0.08, 0.01, -0.05, 0.10],
    [-0.05, 0.07, -0.12, 0.02, 0.10, -0.08, 0.05, -0.03, 0.13, -0.10, 0.04, -0.06, 0.09, -0.14, 0.03, 0.08, -0.05, 0.11, -0.09, 0.02, 0.06],
    [0.08, -0.03, 0.14, -0.09, 0.05, 0.11, -0.06, 0.03, -0.12, 0.09, 0.02, -0.07, 0.12, -0.04, 0.06, -0.10, 0.10, 0.01, -0.05, 0.13, -0.02],
    [0.04, 0.11, -0.07, 0.09, 0.35, -0.04, 0.12, -0.09, 0.06, 0.40, -0.05, 0.10, 0.02, -0.08, 0.14, 0.03, -0.06, 0.09, 0.60, -0.03, 0.07],
    [-0.08, 0.06, -0.03, 0.12, -0.10, 0.04, 0.55, -0.06, 0.09, -0.14, 0.05, -0.02, 0.11, -0.09, 0.07, 0.02, -0.12, 0.10, -0.04, 0.06, 0.13],
    [0.01, -0.09, 0.07, -0.03, 0.11, -0.07, 0.04, 0.09, -0.11, 0.02, -0.05, 0.13, -0.02, 0.06, -0.10, 0.08, 0.03, -0.06, 0.10, -0.04, 0.05],
    [-0.10, -0.25, 0.02, -0.35, -0.08, 0.05, -0.18, -0.40, -0.02, -0.12, -0.30, 0.03, -0.22, -0.06, -0.42, -0.15, 0.01, -0.28, -0.08, -0.35, -0.12],
    [0.06, -0.02, 0.10, -0.08, 0.04, 0.13, -0.05, 0.08, -0.10, 0.03, 0.11, -0.04, 0.07, -0.12, 0.05, 0.09, -0.03, 0.12, -0.07, 0.02, 0.08],
    [-0.02, 0.09, -0.06, 0.50, 0.03, -0.10, 0.07, 0.01, -0.04, 0.11, -0.08, 0.05, 0.09, -0.02, 0.06, -0.11, 0.04, 0.08, -0.05, 0.10, 0.00],
    [0.03, 0.10, -0.05, 0.08, -0.02, 0.12, 0.04, -0.08, 0.09, 0.02, -0.04, 0.11, 0.05, -0.07, 0.10, 0.55, 0.03, -0.05, 0.07, 0.01, 0.09],
]
cstudy_trace_c1 = [
    [-0.06, 0.10, -0.15, 0.04, -0.02, 0.14, -0.09, 0.07, 0.45, -0.04, 0.12, -0.11, 0.03, 0.16, -0.07, 0.08, -0.13, 0.05, 0.20, -0.03, 0.09],
    [0.02, 0.15, -0.08, 0.06, 0.12, -0.15, 0.05, 0.22, -0.02, 0.10, -0.10, 0.07, 0.16, -0.05, 0.03, 0.13, -0.07, 0.09, -0.12, 0.04, 0.11],
    [0.07, 0.70, -0.05, 0.11, -0.14, 0.03, 0.16, -0.08, 0.08, -0.55, 0.12, -0.04, 0.05, 0.15, -0.10, 0.02, 0.09, -0.06, 0.13, -0.02, 0.04],
    [-0.08, -0.65, -0.20, -0.03, -0.35, -0.12, -0.25, -0.55, -0.05, -0.30, -0.72, -0.10, -0.40, -0.15, -0.02, -0.28, -0.48, -0.09, -0.33, -0.85, -0.14],
    [-0.05, 0.09, -0.10, 0.06, -0.03, 0.12, -0.08, 0.02, 0.15, -0.12, 0.04, -0.06, 0.10, -0.02, 0.07, -0.15, 0.05, -0.04, 0.11, -0.09, 0.03],
    [0.80, 0.02, -0.06, 0.09, -0.11, 0.05, 0.13, -0.03, 0.07, -0.08, 0.04, 0.11, -0.05, 0.06, -0.12, 0.10, 0.02, -0.07, 0.08, 0.03, -0.04],
    [-0.02, 0.07, -0.06, 0.10, 0.03, -0.08, 0.11, 0.04, -0.03, 0.08, -0.05, 0.12, 0.00, -0.07, 0.09, 0.05, -0.04, 0.10, 0.50, -0.02, 0.07],
    [-0.03, 0.08, -0.05, 0.12, -0.10, 0.04, -0.02, 0.09, -0.14, 0.06, 0.11, -0.04, 0.07, -0.08, 0.03, 0.13, -0.06, 0.05, -0.03, 0.10, -0.07],
    [0.04, -0.09, 0.08, -0.02, -0.13, 0.06, -0.07, 0.11, -0.04, 0.03, -0.11, 0.09, -0.05, 0.05, -0.08, 0.02, 0.12, -0.06, 0.07, -0.10, 0.01],
    [-0.07, 0.05, -0.02, 0.10, -0.11, 0.07, 0.02, -0.05, 0.12, -0.08, 0.04, 0.09, -0.13, 0.06, -0.03, 0.11, -0.06, 0.03, 0.08, -0.09, 0.05],
    [0.10, -0.05, 0.08, -0.12, 0.05, 0.13, -0.03, 0.07, -0.10, 0.11, 0.01, -0.07, 0.09, 0.04, -0.13, 0.06, 0.12, -0.04, 0.03, 0.08, -0.06],
    [0.05, -0.10, 0.11, 0.02, -0.06, 0.09, -0.13, 0.04, 0.07, -0.03, 0.12, -0.08, 0.03, 0.10, -0.05, 0.06, -0.11, 0.08, 0.00, -0.07, 0.09],
    [-0.04, 0.09, -0.08, 0.05, -0.02, 0.11, -0.06, -0.12, 0.07, 0.03, -0.09, 0.06, 0.10, -0.03, 0.04, -0.07, 0.09, -0.11, 0.02, 0.07, -0.05],
    [-0.20, -0.03, -0.45, -0.10, -0.28, 0.02, -0.15, -0.38, -0.06, -0.22, -0.02, -0.48, -0.12, -0.30, -0.05, -0.18, -0.60, -0.09, -0.25, -0.04, -0.16],
    [-0.03, 0.08, -0.10, 0.06, 0.01, -0.07, 0.10, -0.02, 0.05, -0.11, 0.08, 0.03, -0.06, 0.11, -0.04, 0.07, -0.09, 0.04, 0.10, -0.05, 0.02],
    [0.07, -0.04, 0.10, -0.08, 0.05, 0.02, -0.11, 0.08, 0.03, -0.06, 0.50, -0.02, 0.06, -0.09, 0.11, 0.01, -0.05, 0.09, -0.03, 0.04, 0.08],
    [0.09, -0.03, 0.06, 0.12, -0.07, 0.04, 0.10, 0.00, -0.05, 0.08, 0.13, -0.02, 0.07, 0.03, -0.06, 0.09, 0.05, -0.08, 0.11, 0.02, -0.01],
]

# ---------------- condition|stimulus (4 levels) ----------------
cstim_kde_x = [-1.08, -0.6, -0.35, -0.25, -0.15, -0.1, -0.05, -0.02, 0.0, 0.02, 0.05, 0.1, 0.15,
               0.25, 0.45, 0.95]
cstim_kde_c0 = [
    [0.0, 0.005, 0.02, 0.05, 0.11, 0.24, 0.35, 0.65, 0.87, 0.6, 0.2, 0.08, 0.04, 0.02, 0.005, 0.0],
    [0.0, 0.005, 0.01, 0.02, 0.05, 0.1, 0.22, 0.55, 0.88, 0.65, 0.42, 0.21, 0.09, 0.03, 0.01, 0.0],
    [0.0, 0.005, 0.02, 0.04, 0.1, 0.16, 0.3, 0.6, 0.83, 0.55, 0.25, 0.1, 0.05, 0.02, 0.005, 0.0],
    [0.0, 0.005, 0.01, 0.03, 0.06, 0.14, 0.3, 0.62, 0.9, 0.6, 0.28, 0.15, 0.07, 0.02, 0.005, 0.0],
]
cstim_kde_c1 = [
    [0.0, 0.005, 0.02, 0.05, 0.1, 0.2, 0.32, 0.7, 0.93, 0.62, 0.22, 0.09, 0.05, 0.02, 0.005, 0.0],
    [0.0, 0.005, 0.01, 0.02, 0.04, 0.08, 0.2, 0.52, 0.92, 0.62, 0.4, 0.25, 0.11, 0.04, 0.01, 0.0],
    [0.0, 0.005, 0.02, 0.04, 0.08, 0.18, 0.32, 0.72, 1.0, 0.62, 0.24, 0.09, 0.04, 0.02, 0.005, 0.005],
    [0.0, 0.005, 0.01, 0.03, 0.07, 0.13, 0.28, 0.66, 0.95, 0.58, 0.26, 0.14, 0.06, 0.02, 0.005, 0.005],
]
cstim_div = [-0.047, -0.024, -0.02, -0.017, -0.012, -0.009, -0.004, 0.0, 0.006, 0.01, 0.014, 0.018,
             0.021, 0.027, 0.033, 0.044, 0.108, 0.164]
cstim_trace_c0 = [
    [0.0, -0.05, 0.05, -0.1, 0.02, -0.08, 0.03, -0.12, 0.0, -0.06, 0.04, -0.4, 0.02, -0.07, 0.05, -0.1, 0.1, -0.2, -0.45, 0.03, -0.06, 0.04, -0.1, 0.02, -0.4, 0.05, -1.05, -0.85, 0.02, -0.08, 0.04, -0.2, 0.03, -0.5, 0.02, -0.06, 0.05, -0.3, 0.0, -0.1, 0.03, -0.5, 0.02, -0.07, 0.04, -0.12, 0.02, -0.08, 0.05, -0.3, 0.1],
    [0.05, 0.3, 0.08, 0.0, 0.12, 0.05, 0.35, 0.02, 0.1, 0.0, 0.3, -0.3, 0.08, 0.05, 0.25, 0.0, 0.15, 0.05, -0.2, 0.1, 0.3, 0.06, 0.02, 0.55, -0.3, 0.1, -0.85, -0.75, 0.08, 0.02, 0.3, 0.05, 0.12, -0.35, 0.45, 0.04, 0.1, 0.0, 0.35, 0.05, 0.12, -0.4, 0.3, 0.04, 0.1, 0.0, 0.35, 0.05, 0.08, -0.35, 0.55],
    [-0.02, 0.05, -0.08, 0.2, -0.03, 0.06, -0.1, 0.02, 0.0, 0.08, -0.05, -0.42, 0.05, -0.03, 0.1, -0.05, 0.0, 0.05, -0.45, 0.04, -0.1, 0.08, -0.03, 0.3, -0.42, 0.0, -0.95, -0.88, 0.03, -0.2, 0.06, 0.0, -0.05, -0.45, 0.3, -0.02, 0.04, -0.1, 0.25, -0.05, 0.03, -0.48, 0.05, -0.04, 0.06, -0.3, 0.02, -0.05, 0.04, -0.35, 0.2],
    [0.05, 0.0, 0.1, -0.05, 0.2, 0.02, 0.06, -0.04, 0.35, 0.0, 0.08, -0.42, 0.1, 0.02, 0.05, 0.3, 0.04, 0.08, -0.4, 0.05, 0.02, 0.1, 0.0, 0.4, -0.38, 0.06, -0.9, -0.82, 0.05, 0.0, 0.08, 0.02, 0.15, -0.35, 0.4, 0.05, 0.0, 0.08, 0.3, 0.02, 0.06, -0.45, 0.1, 0.0, 0.05, 0.02, 0.3, 0.04, 0.0, -0.3, 0.4],
]
cstim_trace_c1 = [
    [-0.35, 0.05, -0.1, 0.02, -0.15, 0.04, -0.2, 0.0, 0.08, -0.1, -0.4, 0.03, -0.05, 0.05, -0.25, 0.02, 0.5, 0.85, -0.1, 0.02, -0.45, 0.04, -0.15, 0.0, 0.05, -0.1, 0.02, -0.15, 0.03, -0.2, 0.0, -0.08, 0.05, -0.3, 0.02, -0.1, 0.03, -0.05, -0.15, 0.02, -0.08, -0.3, 0.0, -0.12, 0.04, -0.2, -0.4, 0.02, -0.1, 0.03, -0.05],
    [0.0, 0.1, 0.5, 0.05, 0.0, 0.2, -0.1, 0.05, 0.1, 0.0, 0.3, 0.05, 0.12, 0.0, 0.08, 0.2, 0.45, 0.9, 0.05, 0.15, -0.2, 0.1, 0.05, 0.2, 0.08, 0.0, 0.1, 0.2, 0.02, 0.1, 0.25, 0.05, 0.0, 0.15, 0.4, 0.02, 0.1, 0.35, 0.0, 0.1, 0.05, 0.3, 0.08, 0.0, 0.12, 0.05, 0.5, 0.1, 0.02, 0.25, 0.1],
    [-0.3, 0.2, -0.05, 0.1, -0.1, 0.0, -0.6, 0.05, 0.1, -0.05, -0.45, 0.05, 0.0, 0.1, -0.2, 0.05, 0.4, 0.88, -0.05, 0.05, -0.42, 0.08, -0.1, 0.05, 0.0, -0.05, 0.05, -0.1, 0.08, -0.15, 0.05, -0.05, 0.1, -0.25, 0.43, -0.05, 0.05, 0.0, -0.1, 0.05, -0.05, -0.58, 0.05, -0.1, 0.08, -0.15, -0.35, 0.05, -0.05, 0.08, 0.0],
    [0.25, -0.05, 0.52, 0.0, 0.1, -0.08, 0.05, 0.15, -0.05, 0.1, -0.38, 0.08, 0.02, 0.1, -0.1, 0.05, 0.45, 0.85, 0.0, 0.1, -0.4, 0.05, 0.0, 0.15, 0.05, -0.05, 0.1, 0.0, 0.05, -0.1, 0.12, 0.0, 0.05, -0.2, 0.35, 0.0, 0.08, 0.05, -0.05, 0.1, 0.0, -0.35, 0.08, -0.05, 0.1, 0.0, 0.5, 0.05, -0.02, 0.1, 0.05],
]

# ---------------- 1|study_sigma ----------------
ssig_kde_x = [0.21, 0.23, 0.25, 0.28, 0.31, 0.34, 0.37, 0.39, 0.41, 0.44, 0.47, 0.50, 0.53, 0.56,
              0.60, 0.65, 0.70, 0.75, 0.80, 0.87]
ssig_kde_c0 = [0.01, 0.04, 0.1, 0.28, 0.52, 0.78, 0.97, 1.0, 0.95, 0.78, 0.6, 0.45, 0.33, 0.22, 0.12,
               0.06, 0.03, 0.02, 0.01, 0.01]
ssig_kde_c1 = [0.01, 0.03, 0.09, 0.26, 0.5, 0.77, 0.96, 1.0, 0.97, 0.8, 0.6, 0.42, 0.3, 0.2, 0.11,
               0.06, 0.03, 0.02, 0.01, 0.01]
ssig_div = [0.36, 0.43, 0.495, 0.525, 0.55]
ssig_trace_c0 = [0.42, 0.38, 0.35, 0.44, 0.60, 0.86, 0.55, 0.45, 0.39, 0.33,
                 0.36, 0.52, 0.48, 0.40, 0.34, 0.28, 0.37, 0.47, 0.42, 0.38,
                 0.45, 0.61, 0.50, 0.36, 0.31, 0.44, 0.39, 0.30, 0.35, 0.55,
                 0.48, 0.41, 0.37, 0.34, 0.40, 0.49, 0.43, 0.39, 0.45, 0.66,
                 0.52, 0.35, 0.38, 0.43, 0.33, 0.31, 0.41, 0.50, 0.46, 0.42,
                 0.37, 0.33, 0.44, 0.58, 0.47, 0.33, 0.36, 0.46, 0.41, 0.40,
                 0.34, 0.29, 0.38, 0.53, 0.76, 0.55, 0.38, 0.42, 0.44, 0.35,
                 0.36, 0.40, 0.41, 0.32, 0.37, 0.48, 0.44, 0.39, 0.34, 0.57,
                 0.45, 0.34, 0.38, 0.45, 0.40, 0.30, 0.35, 0.51, 0.46, 0.40,
                 0.38, 0.36, 0.43, 0.62, 0.50, 0.43, 0.37, 0.60, 0.80, 0.52, 0.38]
ssig_trace_c1 = [0.38, 0.44, 0.47, 0.39, 0.33, 0.45, 0.56, 0.48, 0.40, 0.35,
                 0.30, 0.52, 0.70, 0.50, 0.44, 0.40, 0.36, 0.43, 0.51, 0.46,
                 0.32, 0.37, 0.42, 0.45, 0.48, 0.41, 0.37, 0.33, 0.29, 0.36,
                 0.45, 0.41, 0.39, 0.55, 0.63, 0.47, 0.35, 0.38, 0.43, 0.40,
                 0.52, 0.44, 0.31, 0.36, 0.41, 0.45, 0.38, 0.43, 0.59, 0.49,
                 0.34, 0.30, 0.46, 0.42, 0.40, 0.35, 0.22, 0.31, 0.44, 0.48,
                 0.37, 0.33, 0.50, 0.46, 0.33, 0.38, 0.42, 0.48, 0.55, 0.44,
                 0.30, 0.35, 0.47, 0.42, 0.39, 0.34, 0.72, 0.55, 0.36, 0.40,
                 0.43, 0.38, 0.32, 0.40, 0.49, 0.44, 0.38, 0.46, 0.64, 0.50,
                 0.35, 0.33, 0.41, 0.45, 0.46, 0.36, 0.31, 0.38, 0.44, 0.42, 0.39]

# ---------------- 1|stimulus_sigma ----------------
stsig_kde_x0 = [0.31, 0.45, 0.6, 0.75, 0.87, 1.0, 1.2, 1.4, 1.75, 2.1, 2.4, 2.75, 3.1, 3.4, 3.75,
                4.2, 4.7, 5.1, 5.6, 7.0, 8.5, 10.0, 11.0, 12.3]
stsig_kde_c0 = [0.17, 0.5, 0.82, 0.97, 1.0, 0.96, 0.78, 0.55, 0.4, 0.23, 0.16, 0.12, 0.1, 0.085,
                0.04, 0.025, 0.02, 0.0, 0.01, 0.01, 0.005, 0.005, 0.0, 0.005]
stsig_kde_x1 = [0.26, 0.45, 0.6, 0.75, 0.9, 1.05, 1.2, 1.4, 1.75, 2.1, 2.4, 2.75, 3.1, 3.4, 3.75,
                4.2, 4.7, 5.1, 5.6, 7.0, 8.5, 10.0, 11.0, 12.3]
stsig_kde_c1 = [0.4, 0.52, 0.8, 0.95, 0.99, 0.93, 0.8, 0.58, 0.4, 0.28, 0.2, 0.12, 0.09, 0.07, 0.05,
                0.03, 0.04, 0.01, 0.005, 0.005, 0.005, 0.0, 0.0, 0.0]
stsig_div = [0.9, 2.8, 3.2, 3.35, 4.8]
stsig_trace_c0 = [1.5, 2.3, 8.0, 1.8, 1.2, 0.9, 2.0, 3.5, 1.6, 10.0,
                  2.5, 1.4, 1.0, 2.2, 0.8, 1.3, 1.6, 2.8, 4.5, 1.9,
                  1.1, 0.9, 2.6, 1.7, 1.3, 0.7, 0.9, 1.5, 6.5, 2.2,
                  1.8, 9.5, 1.0, 1.4, 2.4, 1.6, 1.2, 0.8, 3.0, 2.1,
                  1.5, 1.1, 0.8, 1.3, 2.0, 1.4, 5.2, 2.0, 1.3, 0.9,
                  1.7, 1.2, 0.9, 2.8, 1.9, 1.4, 1.0, 4.0, 1.6, 1.1,
                  1.3, 2.0, 8.8, 3.5, 5.0, 12.3, 6.0, 2.0, 1.4, 1.2,
                  2.2, 3.6, 1.8, 1.6, 1.0, 0.9, 2.5, 1.7, 1.3, 1.0,
                  2.0, 5.5, 1.6, 1.0, 1.5, 1.9, 1.1, 1.4, 2.6, 1.3,
                  7.0, 3.0, 1.1, 1.6, 2.2, 1.5, 1.2, 1.0, 4.8, 1.8, 1.2]
stsig_trace_c1 = [2.0, 4.0, 1.1, 1.5, 3.2, 2.0, 1.5, 0.9, 1.2, 2.6,
                  6.0, 1.8, 1.3, 1.0, 1.8, 2.6, 1.0, 1.6, 2.4, 1.2,
                  1.4, 3.0, 2.0, 1.5, 1.2, 0.8, 1.6, 2.9, 1.6, 1.1,
                  0.8, 1.4, 2.1, 1.7, 1.3, 0.9, 3.8, 2.2, 1.0, 1.5,
                  1.7, 2.4, 6.8, 2.1, 1.2, 1.8, 2.5, 1.3, 1.5, 0.9,
                  1.1, 3.3, 2.0, 1.4, 1.6, 2.0, 1.1, 0.8, 4.6, 2.2,
                  1.6, 1.2, 2.7, 1.9, 7.5, 2.8, 1.3, 1.5, 1.9, 1.0,
                  0.9, 1.7, 2.3, 1.4, 5.8, 2.0, 1.5, 1.1, 1.2, 3.0,
                  1.0, 1.3, 2.2, 1.6, 8.0, 2.4, 1.4, 1.0, 1.8, 1.3,
                  3.4, 8.0, 2.1, 1.1, 1.5, 1.9, 1.6, 1.2, 2.4, 1.4, 1.6]

# ---------------- condition|study_sigma ----------------
cssig_kde_x = [0.0, 0.02, 0.04, 0.06, 0.08, 0.10, 0.12, 0.14, 0.16, 0.18, 0.20, 0.22, 0.25, 0.28,
               0.30, 0.33, 0.36, 0.40, 0.45]
cssig_kde_c0 = [0.835, 0.856, 0.864, 0.864, 0.84, 0.78, 0.665, 0.54, 0.42, 0.325, 0.24, 0.175, 0.105,
                0.052, 0.03, 0.013, 0.003, 0.003, 0.005]
cssig_kde_c1 = [1.0, 0.995, 0.95, 0.856, 0.79, 0.74, 0.66, 0.54, 0.41, 0.306, 0.22, 0.157, 0.09,
                0.045, 0.025, 0.01, 0.003, 0.003, 0.005]
cssig_div = [0.018, 0.038, 0.062, 0.097, 0.143]
cssig_trace_c0 = [0.12, 0.08, 0.05, 0.10, 0.30, 0.18, 0.08, 0.12, 0.15, 0.06,
                  0.03, 0.09, 0.20, 0.14, 0.10, 0.05, 0.06, 0.11, 0.25, 0.16,
                  0.04, 0.08, 0.14, 0.19, 0.09, 0.05, 0.18, 0.12, 0.02, 0.07,
                  0.11, 0.15, 0.38, 0.20, 0.07, 0.04, 0.13, 0.09, 0.05, 0.10,
                  0.22, 0.15, 0.09, 0.05, 0.03, 0.08, 0.16, 0.11, 0.12, 0.07,
                  0.06, 0.15, 0.45, 0.22, 0.10, 0.06, 0.04, 0.12, 0.19, 0.14,
                  0.08, 0.05, 0.13, 0.17, 0.02, 0.06, 0.27, 0.15, 0.09, 0.04,
                  0.15, 0.11, 0.05, 0.07, 0.11, 0.18, 0.40, 0.16, 0.07, 0.03,
                  0.14, 0.10, 0.03, 0.06, 0.21, 0.14, 0.10, 0.07, 0.06, 0.12,
                  0.17, 0.09, 0.08, 0.13, 0.12, 0.06, 0.04, 0.09, 0.15, 0.11, 0.09]
cssig_trace_c1 = [0.08, 0.11, 0.14, 0.05, 0.30, 0.42, 0.20, 0.06, 0.09, 0.11,
                  0.20, 0.12, 0.04, 0.08, 0.13, 0.10, 0.09, 0.16, 0.28, 0.12,
                  0.05, 0.11, 0.16, 0.13, 0.10, 0.07, 0.03, 0.09, 0.19, 0.14,
                  0.08, 0.05, 0.12, 0.35, 0.15, 0.06, 0.10, 0.14, 0.04, 0.02,
                  0.10, 0.07, 0.24, 0.16, 0.07, 0.11, 0.15, 0.09, 0.04, 0.08,
                  0.12, 0.10, 0.09, 0.05, 0.33, 0.18, 0.05, 0.09, 0.17, 0.13,
                  0.11, 0.06, 0.03, 0.08, 0.14, 0.10, 0.08, 0.13, 0.21, 0.15,
                  0.06, 0.09, 0.12, 0.07, 0.04, 0.10, 0.18, 0.14, 0.09, 0.12,
                  0.30, 0.15, 0.07, 0.05, 0.13, 0.10, 0.05, 0.12, 0.16, 0.09,
                  0.39, 0.20, 0.06, 0.09, 0.12, 0.10, 0.08, 0.13, 0.16, 0.11, 0.08]


plt.rcParams.update({
    "font.family": ["DejaVu Sans"],
    "axes.facecolor": "#eeeeee",
    "axes.grid": True,
    "grid.color": "white",
    "grid.linewidth": 1.0,
    "axes.spines.left": False,
    "axes.spines.right": False,
    "axes.spines.top": False,
    "axes.spines.bottom": False,
    "xtick.major.size": 0,
    "ytick.major.size": 0,
    "xtick.labelsize": 10,
    "ytick.labelsize": 10,
    "xtick.color": "#222222",
    "ytick.color": "#222222",
    "axes.titlesize": 12.5,
    "axes.titlecolor": "#222222",
    "axes.axisbelow": True,
})


def mark_divergences(ax, xs):
    # arviz puts the divergent samples as "|" markers on the lower y limit
    y0 = ax.get_ylim()[0]
    ax.plot(xs, np.full(len(xs), y0), ls="none", marker="|", ms=30, mew=1.5,
            color="black", alpha=0.4)


def kde_panel(ax, title, curves, div):
    # curves: list of (x, y, color, linestyle)
    for x, y, color, ls in curves:
        ax.plot(x, y, color=color, ls=ls, lw=1.3)
    mark_divergences(ax, div)
    ax.set_yticks([])
    ax.set_title(title)


def trace_panel(ax, title, series, yticks=None):
    # series: list of (values, color, linestyle)
    for vals, color, ls in series:
        draws = np.linspace(0, 999, len(vals))
        ax.plot(draws, vals, color=color, ls=ls, lw=1.0, alpha=0.35)
    mark_divergences(ax, DIV_DRAWS)
    ax.set_xlim(0, 999)
    ax.set_xticks([0, 200, 400, 600, 800])
    if yticks is not None:
        ax.set_yticks(yticks)
    ax.set_title(title)


def single_row(axs, title, kx0, ky0, kx1, ky1, div, t0, t1, yticks=None):
    c = COLORS[0]
    kde_panel(axs[0], title, [(kx0, ky0, c, "-"), (kx1, ky1, c, ":")], div)
    trace_panel(axs[1], title, [(t0, c, "-"), (t1, c, ":")], yticks)


def multi_row(axs, title, xs0, ys0, xs1, ys1, div, t0, t1, yticks=None):
    n = len(ys0)
    curves = [(xs0[i], ys0[i], COLORS[i % 10], "-") for i in range(n)]
    curves += [(xs1[i], ys1[i], COLORS[i % 10], ":") for i in range(n)]
    kde_panel(axs[0], title, curves, div)
    series = [(t0[i], COLORS[i % 10], "-") for i in range(n)]
    series += [(t1[i], COLORS[i % 10], ":") for i in range(n)]
    trace_panel(axs[1], title, series, yticks)


fig, axes = plt.subplots(12, 2, figsize=(12.11, 24.11), dpi=100, layout="constrained")
fig.get_layout_engine().set(w_pad=0.04, h_pad=0.04, hspace=0.02, wspace=0.02)

single_row(axes[0], "Intercept", intercept_kde_x0, intercept_kde_c0, intercept_kde_x1,
           intercept_kde_c1, intercept_div, intercept_trace_c0, intercept_trace_c1)
single_row(axes[1], "age", age_kde_x0, age_kde_c0, age_kde_x1, age_kde_c1, age_div,
           age_trace_c0, age_trace_c1, [0.02, 0.04, 0.06])
single_row(axes[2], "gender", gender_kde_x, gender_kde_c0, gender_kde_x, gender_kde_c1,
           gender_div, gender_trace_c0, gender_trace_c1)
single_row(axes[3], "condition", condition_kde_x0, condition_kde_c0, condition_kde_x1,
           condition_kde_c1, condition_div, condition_trace_c0, condition_trace_c1)
single_row(axes[4], "value_sigma", vsig_kde_x, vsig_kde_c0, vsig_kde_x, vsig_kde_c1, vsig_div,
           vsig_trace_c0, vsig_trace_c1, [2.20, 2.25, 2.30])

study_x = [[c + o for o in study_kde_offsets] for c in study_centers]
multi_row(axes[5], "1|study", study_x, study_kde_c0, study_x, study_kde_c1, study_div,
          study_trace_c0, study_trace_c1, [-1, 0, 1])
stim_x = [stim_kde_x] * len(stim_kde_c0)
multi_row(axes[6], "1|stimulus", stim_x, stim_kde_c0, stim_x, stim_kde_c1, stim_div,
          stim_trace_c0, stim_trace_c1)
cstudy_x = [cstudy_kde_x] * len(cstudy_kde_c0)
multi_row(axes[7], "condition|study", cstudy_x, cstudy_kde_c0, cstudy_x, cstudy_kde_c1,
          cstudy_div, cstudy_trace_c0, cstudy_trace_c1)
cstim_x = [cstim_kde_x] * len(cstim_kde_c0)
multi_row(axes[8], "condition|stimulus", cstim_x, cstim_kde_c0, cstim_x, cstim_kde_c1,
          cstim_div, cstim_trace_c0, cstim_trace_c1)

single_row(axes[9], "1|study_sigma", ssig_kde_x, ssig_kde_c0, ssig_kde_x, ssig_kde_c1, ssig_div,
           ssig_trace_c0, ssig_trace_c1)
single_row(axes[10], "1|stimulus_sigma", stsig_kde_x0, stsig_kde_c0, stsig_kde_x1, stsig_kde_c1,
           stsig_div, stsig_trace_c0, stsig_trace_c1)
single_row(axes[11], "condition|study_sigma", cssig_kde_x, cssig_kde_c0, cssig_kde_x, cssig_kde_c1,
           cssig_div, cssig_trace_c0, cssig_trace_c1, [0.0, 0.2, 0.4])

fig.savefig("out.png", dpi=100)
